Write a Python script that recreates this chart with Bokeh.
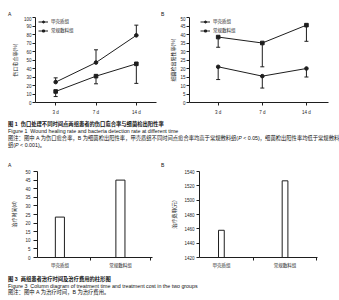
from bokeh.plotting import figure
from bokeh.layouts import column, row
from bokeh.models import (Range1d, FixedTicker, Whisker, ColumnDataSource, Legend,
                          LegendItem, Div, TeeHead)
from bokeh.embed import file_html
from bokeh.resources import INLINE

# ---------------- data ----------------
days = ["3 d", "7 d", "14 d"]
groups = ["甲壳质组", "常规敷料组"]
heal_chitin = [24, 47, 79]
heal_chitin_sd = [5, 15, 12]
heal_conv = [13, 31, 45.5]
heal_conv_sd = [6, 9, 23]
bact_chitin = [21, 15.5, 20]
bact_chitin_sd = [7.5, 7, 5]
bact_conv = [38.5, 35, 45.5]
bact_conv_sd = [6, 14, 9.5]
treat_time = [23.5, 45]
treat_cost = [1458, 1527]
panel_letters = ["A", "B"]

FONT = "Liberation Sans, Noto Sans CJK SC"
INK = "#1e1e1e"
CSS_FONT = "font-family:'Liberation Sans','Noto Sans CJK SC',sans-serif;color:#111;"


def style(p, tick_out=3, label_standoff=2, ylabel_standoff=3, xlabel_standoff=4):
    p.outline_line_color = None
    p.grid.visible = False
    for ax in p.axis:
        ax.axis_line_color = INK
        ax.axis_line_width = 1
        ax.major_tick_line_color = INK
        ax.major_tick_in = 0
        ax.minor_tick_line_color = None
        ax.major_label_text_font = FONT
        ax.major_label_text_font_size = "4.5px"
        ax.major_label_text_color = INK
        ax.axis_label_text_font = FONT
        ax.axis_label_text_font_size = "5px"
        ax.axis_label_text_font_style = "normal"
        ax.axis_label_text_color = INK
    p.yaxis.major_tick_out = tick_out
    p.yaxis.major_label_standoff = label_standoff
    p.yaxis.axis_label_standoff = ylabel_standoff
    p.xaxis.major_tick_out = 3
    p.xaxis.major_label_standoff = xlabel_standoff


def line_panel(width, mb_left, mb_right, xr, yr, ystep, ylabel, s1, s2, up1, legend_x):
    p = figure(width=width, height=102, min_border_left=mb_left, min_border_right=mb_right,
               min_border_top=1, min_border_bottom=16, x_range=Range1d(*xr),
               y_range=Range1d(*yr), output_backend="svg", toolbar_location=None)
    xs = [i + 1 for i in range(len(days))]
    rends = []
    for (m, sd), marker, up in zip([s1, s2], ["circle", "square"], up1):
        upper = [a + b for a, b in zip(m, sd)] if up else list(m)
        lower = list(m) if up else [a - b for a, b in zip(m, sd)]
        src = ColumnDataSource(dict(x=xs, y=m, upper=upper, lower=lower))
        w = Whisker(source=src, base="x", upper="upper", lower="lower", line_color=INK,
                    line_width=1,
                    upper_head=TeeHead(size=4, line_color=INK, line_width=1) if up else None,
                    lower_head=None if up else TeeHead(size=4, line_color=INK, line_width=1))
        p.add_layout(w)
        l = p.line("x", "y", source=src, line_color=INK, line_width=1)
        sc = p.scatter("x", "y", source=src, marker=marker, size=3.6, fill_color=INK,
                       line_color=INK)
        rends.append([l, sc])
    legend = Legend(items=[LegendItem(label=g, renderers=r) for g, r in zip(groups, rends)],
                    location=(legend_x, 85 - 3 - 13), padding=0, margin=0, spacing=3,
                    glyph_width=10, glyph_height=5, label_height=5, label_standoff=3,
                    label_text_font=FONT, label_text_font_size="4.5px",
                    label_text_color=INK, border_line_color=None,
                    background_fill_alpha=0)
    p.add_layout(legend)
    p.xaxis.ticker = FixedTicker(ticks=xs)
    p.xaxis.major_label_overrides = dict(zip(xs, days))
    p.yaxis.ticker = FixedTicker(ticks=list(range(yr[0], yr[1] + 1, ystep)))
    p.yaxis.axis_label = ylabel
    return p


pA = line_panel(152, 22, 4, (0.5, 3.5), (0, 100), 10, "伤口愈合率(%)",
                (heal_chitin, heal_chitin_sd), (heal_conv, heal_conv_sd), (True, False), 3)
style(pA, tick_out=3, label_standoff=1, ylabel_standoff=3)

pB = line_panel(171, 29, 3, (0.35, 3.5), (0, 50), 5, "细菌检出阳性率(%)",
                (bact_chitin, bact_chitin_sd), (bact_conv, bact_conv_sd), (False, False), 11)
style(pB, tick_out=3, label_standoff=1, ylabel_standoff=1)


def bar_panel(width, mb_left, mb_right, xr, yr, ystep, ylabel, vals, bw):
    p = figure(width=width, height=102, min_border_left=mb_left, min_border_right=mb_right,
               min_border_top=3, min_border_bottom=11, x_range=Range1d(*xr),
               y_range=Range1d(*yr), output_backend="svg", toolbar_location=None)
    bx = [i + 0.5 for i in range(len(groups))]
    p.vbar(x=bx, top=vals, bottom=yr[0], width=bw, fill_color="white", line_color=INK,
           line_width=1)
    p.xaxis.ticker = FixedTicker(ticks=bx, minor_ticks=[i + 1 for i in range(len(groups))])
    p.xaxis.major_label_overrides = dict(zip(bx, groups))
    p.yaxis.ticker = FixedTicker(ticks=list(range(yr[0], yr[1] + 1, ystep)))
    p.yaxis.axis_label = ylabel
    return p


pC = bar_panel(152, 23, 8, (0.13, 2.03), (0, 50), 5, "治疗时间(d)", treat_time, 0.15)
style(pC, tick_out=4, label_standoff=3, ylabel_standoff=5, xlabel_standoff=2)
pC.xaxis.major_tick_out = 0
pC.xaxis.minor_tick_line_color = INK
pC.xaxis.minor_tick_out = 3
pC.xaxis.minor_tick_in = 0

pD = bar_panel(171, 39, 14, (0.156, 2.01), (1420, 1540), 20, "治疗费用(元)", treat_cost, 0.09)
style(pD, tick_out=3, label_standoff=2, ylabel_standoff=4, xlabel_standoff=2)
pD.xaxis.major_tick_out = 0
pD.xaxis.minor_tick_line_color = INK
pD.xaxis.minor_tick_out = 3
pD.xaxis.minor_tick_in = 0


def letters_html(top):
    return (f"<span style=\"position:absolute;left:0px;top:{top}px;font-size:5px;line-height:5px\">{panel_letters[0]}</span>"
            f"<span style=\"position:absolute;left:153px;top:{top}px;font-size:5px;line-height:5px\">{panel_letters[1]}</span>")


top_html = f"<div style=\"{CSS_FONT}position:relative;width:323px;height:8px\">{letters_html(0)}</div>"

CAP = f"{CSS_FONT}font-size:5.3px;white-space:nowrap;"
cap1_html = (
    f"<div style=\"position:relative;width:323px;height:50px;{CSS_FONT}\">"
    f"<div style=\"{CAP}line-height:7px;padding-top:3px\">"
    "<b>图 1&nbsp;&nbsp;伤口处理不同时间点两组患者的伤口愈合率与细菌检出阳性率</b><br>"
    "Figure 1&nbsp;&nbsp;Wound healing rate and bacteria detection rate at different time<br>"
    "图注：图中 A 为伤口愈合率，B 为细菌检出阳性率，甲壳质组不同时间点愈合率均高于常规敷料组(<i>P</i> &lt; 0.05)，细菌检出阳性率均低于常规敷料<br>"
    "组(<i>P</i> &lt; 0.001)。</div>"
    f"{letters_html(44.5)}</div>")
cap3_html = (
    f"<div style=\"{CAP}line-height:6.5px;padding-top:6px\">"
    "<b>图 3&nbsp;&nbsp;两组患者治疗时间及治疗费用的柱形图</b><br>"
    "Figure 3&nbsp;&nbsp;Column diagram of treatment time and treatment cost in the two groups<br>"
    "图注：图中 A 为治疗时间，B 为治疗费用。</div>")

top_div = Div(text=top_html, width=323, height=8, margin=(0, 0, 0, 0))
cap1 = Div(text=cap1_html, width=323, height=50, margin=(0, 0, 0, 0))
cap3 = Div(text=cap3_html, width=323, height=22, margin=(0, 0, 0, 0))

layout = column(top_div, row(pA, pB, spacing=0), cap1, row(pC, pD, spacing=0), cap3,
                spacing=0, margin=(8, 8, 8, 8))

open("out.html", "w").write(file_html(layout, INLINE))
